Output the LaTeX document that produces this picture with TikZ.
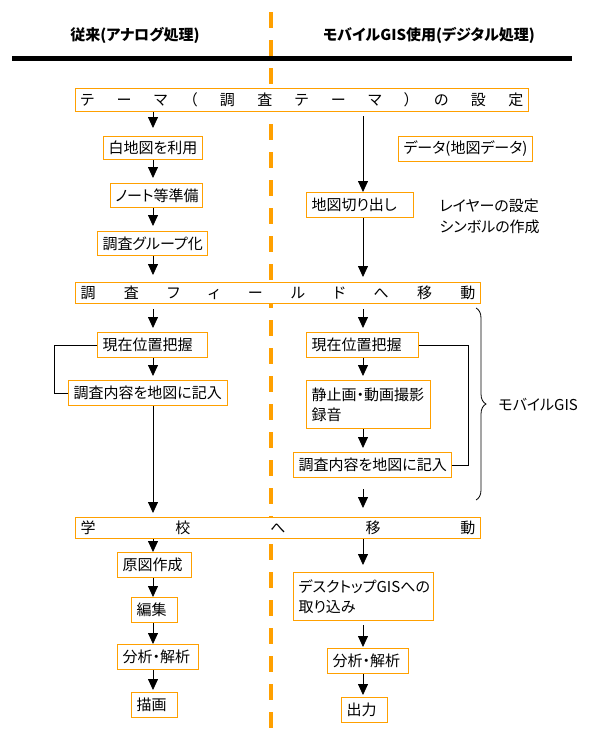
\documentclass[tikz,border=0pt]{standalone}
\usepackage{fontspec}
\newfontfamily\jp[RawFeature=+palt]{Noto Sans CJK JP}
\usetikzlibrary{arrows.meta,positioning,decorations.pathreplacing}
\definecolor{boxorange}{RGB}{255,160,0}

\begin{document}
\begin{tikzpicture}[x=1pt,y=-1pt]
    \tikzset{block/.style= {draw=boxorange, fill=white, rectangle
    , line width=1pt
    , anchor=north west
    , inner xsep=5pt, inner ysep=0pt
    , align=left
    , font=\jp\fontsize{15}{20}\selectfont
      },
      flow/.style={draw, line width=0.8pt, -{Triangle[length=11pt,width=10pt]}},
      plain/.style={font=\jp\fontsize{15}{21}\selectfont}
    }
\useasboundingbox (0,0) rectangle (596,747);

% columns
\coordinate (colL) at (153,0);
\coordinate (colR) at (363,0);
\draw[boxorange, line width=4pt, dash pattern=on 16pt off 12pt] (271,12) -- (271,728);

% headings
\node [plain, font=\jp\bfseries\fontsize{15}{18}\selectfont] (headL) at (135,35) {従来(アナログ処理)};
\node [plain, font=\jp\bfseries\fontsize{15}{18}\selectfont] (headR) at (429,35) {モバイルGIS使用(デジタル処理)};
\draw[line width=5pt] (12,58) -- (572,58);

% wide steps
\node [block, text width=443pt, minimum height=23pt] (theme) at (75,88)
  {\hbox to 443pt{テ\hfill ー\hfill マ\hfill （\hfill 調\hfill 査\hfill テ\hfill ー\hfill マ\hfill ）\hfill の\hfill 設\hfill 定}};
\node [block, text width=395pt, minimum height=21pt] (field) at (75,282)
  {\hbox to 395pt{調\hfill 査\hfill フ\hfill ィ\hfill ー\hfill ル\hfill ド\hfill へ\hfill 移\hfill 動}};
\node [block, text width=395pt, minimum height=21pt] (school) at (75,517)
  {\hbox to 395pt{学\hfill 校\hfill へ\hfill 移\hfill 動}};

% analog side
\node [block, text width=89pt, minimum height=23pt] (shiro) at (103,136) {白地図を利用};
\node [block, text width=82pt, minimum height=24pt] (note) at (110,183) {ノート等準備};
\node [block, text width=100pt, minimum height=24pt] (group) at (97,231) {調査グループ化};
\node [block, text width=100pt, minimum height=25pt] (genzaiL) at (97,332) {現在位置把握};
\node [block, text width=149pt, minimum height=25pt] (kinyuL) at (68,380) {調査内容を地図に記入};
\node [block, text width=64pt, minimum height=25pt] (genzu) at (117,552) {原図作成};
\node [block, text width=36pt, minimum height=25pt] (henshu) at (131,597) {編集};
\node [block, text width=71pt, minimum height=25pt] (bunsekiL) at (117,644) {分析・解析};
\node [block, text width=36pt, minimum height=25pt] (byoga) at (131,692) {描画};

% digital side
\node [block, text width=124pt, minimum height=25pt] (data) at (398,136) {データ(地図データ)};
\node [block, text width=97pt, minimum height=25pt] (kiridashi) at (306,192) {地図切り出し};
\node [plain, anchor=west, align=left] (layer) at (436,216.5) {レイヤーの設定\\シンボルの作成};
\node [block, text width=102pt, minimum height=25pt] (genzaiR) at (306,332) {現在位置把握};
\node [block, text width=114pt, minimum height=48pt] (seishi) at (306,380) {静止画・動画撮影\\録音};
\node [block, text width=148pt, minimum height=25pt] (kinyuR) at (293,452) {調査内容を地図に記入};
\node [block, text width=130pt, minimum height=48pt] (desktop) at (293,572) {デスクトップGISへの\\取り込み};
\node [block, text width=71pt, minimum height=25pt] (bunsekiR) at (327,648) {分析・解析};
\node [block, text width=36pt, minimum height=25pt] (output) at (341,697) {出力};

% brace
\draw[decorate, decoration={brace, amplitude=10pt}, line width=0.8pt] (476,308) -- (476,500);
\node [plain, anchor=west] (mobile) at (495,405) {モバイルGIS};

% analog flow
\path[flow, shorten >=8pt] (theme.south -| colL) -- (shiro.north -| colL);
\path[flow, shorten >=5pt] (shiro.south -| colL) -- (note.north -| colL);
\path[flow, shorten >=5pt] (note.south -| colL) -- (group.north -| colL);
\path[flow, shorten >=7pt] (group.south -| colL) -- (field.north -| colL);
\path[flow, shorten <=5pt, shorten >=4pt] (field.south -| colL) -- (genzaiL.north -| colL);
\path[flow, shorten >=4pt] (genzaiL.south -| colL) -- (kinyuL.north -| colL);
\path[flow, shorten >=4pt] (kinyuL.south -| colL) -- (school.north -| colL);
\path[flow] (school.south -| colL) -- (genzu.north -| colL);
\path[flow] (genzu.south -| colL) -- (henshu.north -| colL);
\path[flow] (henshu.south -| colL) -- (bunsekiL.north -| colL);
\path[flow, shorten >=2pt] (bunsekiL.south -| colL) -- (byoga.north -| colL);
\draw[line width=0.8pt] (genzaiL.west) -- ++(-43,0) |- (kinyuL.west);

% digital flow
\path[flow, shorten <=4pt] (theme.south -| colR) -- (kiridashi.north -| colR);
\path[flow, shorten >=5pt] (kiridashi.south -| colR) -- (field.north -| colR);
\path[flow, shorten <=5pt, shorten >=4pt] (field.south -| colR) -- (genzaiR.north -| colR);
\path[flow, shorten >=4pt] (genzaiR.south -| colR) -- (seishi.north -| colR);
\path[flow, shorten >=4pt] (seishi.south -| colR) -- (kinyuR.north -| colR);
\path[flow, shorten <=11pt, shorten >=9pt] (kinyuR.south -| colR) -- (school.north -| colR);
\path[flow, shorten >=7pt] (school.south -| colR) -- (desktop.north -| colR);
\path[flow, shorten <=4pt, shorten >=1pt] (desktop.south -| colR) -- (bunsekiR.north -| colR);
\path[flow, shorten >=2pt] (bunsekiR.south -| colR) -- (output.north -| colR);
\draw[line width=0.8pt] (genzaiR.east) -- (genzaiR.east -| 468,0) |- (kinyuR.east);
\end{tikzpicture}
\end{document}
